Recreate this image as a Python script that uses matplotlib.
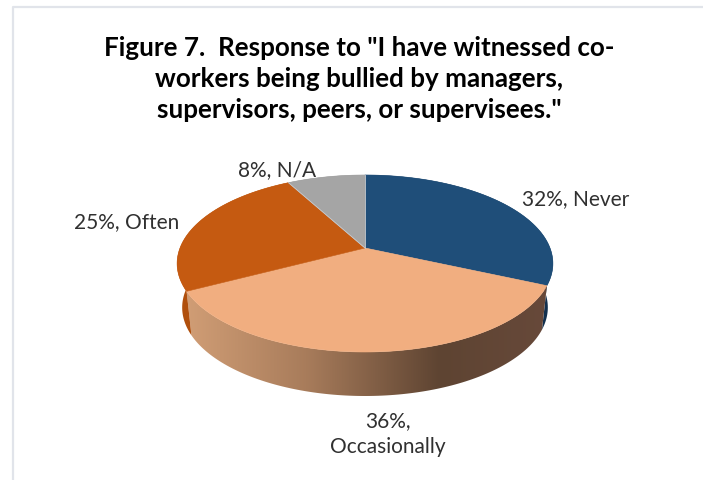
import numpy as np
import matplotlib
matplotlib.use('Agg')
import matplotlib.pyplot as plt
from matplotlib.colors import LinearSegmentedColormap
from matplotlib.patches import Polygon

# survey responses, percent
categories = ['Never', 'Occasionally', 'Often', 'N/A']
values = [32, 36, 25, 8]
top_colors = ['#1F4E79', '#F1AE80', '#C55A11', '#A5A5A5']
wall_colors = ['#12304E', '#C99670', '#B04F0C', '#8A8A8A']
label_text = ['32%, Never', '36%,\nOccasionally', '25%, Often', '8%, N/A']
label_pos = [(576, 199), (388, 434), (127, 222), (277, 170)]
title = 'Figure 7.  Response to "I have witnessed co-\nworkers being bullied by managers,\nsupervisors, peers, or supervisees."'

plt.rcParams['font.family'] = ['Lato', 'DejaVu Sans']

# pie shape in pixels, k is the perspective squeeze towards the back
CX, CY = 365, 248
A, B, K = 185, 85.8, 0.175
DEPTH = 44
A_LOW = 180


def rim(a0, a1, width=A, drop=0):
    # a0, a1 in degrees, clockwise from 12 o'clock
    t = np.radians(np.linspace(a0, a1, 120))
    s = 1 + K * np.cos(t)
    return np.column_stack((CX + width * np.sin(t) / s, CY + drop - B * np.cos(t) / s))


fig = plt.figure(figsize=(7.03, 4.8), dpi=100)
ax = fig.add_axes([0, 0, 1, 1])
ax.set_xlim(0, 703)
ax.set_ylim(480, 0)
ax.axis('off')

# chart frame, runs off the right and bottom
ax.plot([703, 13, 13], [6.5, 6.5, 480], color='#E1E4EA', lw=1.6, zorder=1)

edges = np.cumsum([0] + values) / sum(values) * 360

# walls first, the top faces cover their back halves
peach_grad = LinearSegmentedColormap.from_list('wall', [
    (0.0, '#D09D75'), (0.33, '#A87C5B'), (0.70, '#5E4432'), (1.0, '#67493A')])
for i in range(len(values)):
    upper = rim(edges[i], edges[i + 1])
    lower = rim(edges[i], edges[i + 1], A_LOW, DEPTH)
    pts = np.vstack((upper, lower[::-1]))
    wall = Polygon(pts, closed=True, fc=wall_colors[i], ec='none', zorder=2)
    ax.add_patch(wall)
    if categories[i] == 'Occasionally':
        wall.set_facecolor('none')
        grad = ax.imshow(np.linspace(0, 1, 256)[None, :], cmap=peach_grad, aspect='auto',
                         extent=(187, 548, 400, 280), zorder=2)
        grad.set_clip_path(wall)
ax.set_xlim(0, 703)
ax.set_ylim(480, 0)

for i in range(len(values)):
    pts = np.vstack(([CX, CY], rim(edges[i], edges[i + 1])))
    ax.add_patch(Polygon(pts, closed=True, fc=top_colors[i], ec=top_colors[i], lw=0.4, zorder=3))

# thin light seam beside the grey slice
for a in (edges[3], edges[0]):
    p = rim(a, a)[0]
    ax.plot([CX, p[0]], [CY, p[1]], color='#C9CCD0', lw=0.6, zorder=4)

for txt, (x, y) in zip(label_text, label_pos):
    ax.text(x, y, txt, ha='center', va='center', fontsize=15, color='#303030',
            linespacing=1.42, zorder=5)

ax.text(359, 79, title, ha='center', va='center', fontsize=18.7, fontweight='bold',
        color='black', linespacing=1.36, zorder=5)

fig.savefig('out.png', dpi=100)
